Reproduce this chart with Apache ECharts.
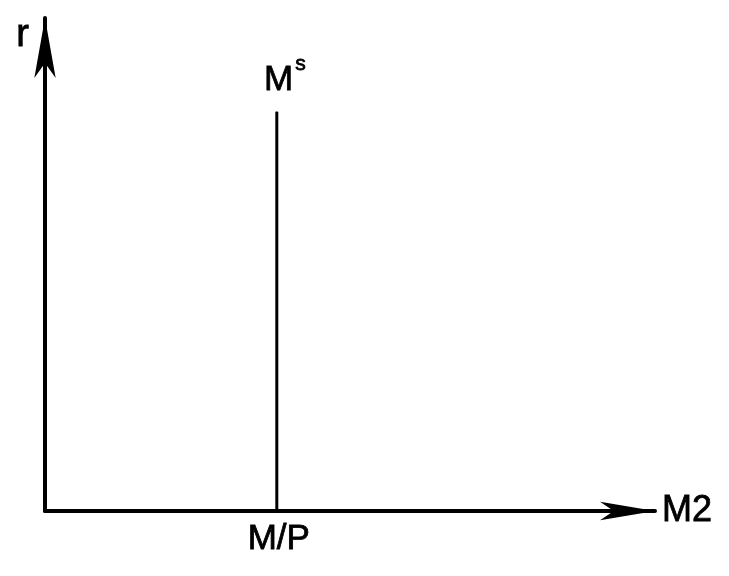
<!DOCTYPE html>
<html>
<head>
<meta charset="utf-8">
<script src="https://cdn.jsdelivr.net/npm/echarts@6/dist/echarts.min.js"></script>
<style>
  html, body { margin: 0; padding: 0; background: #fff; }
  #chart { width: 729px; height: 576px; }
</style>
</head>
<body>
<div id="chart"></div>
<script>
// money supply curve: vertical at M/P
const supplyX = [38, 38];
const supplyY = [0, 81];
const pointLabels = ['M/P', '{m|M}{s|s}'];
const labelPos = ['bottom', 'top'];

const chart = echarts.init(document.getElementById('chart'));
const font = 'Liberation Sans, Arial, sans-serif';
// thicken the text a little, the original is a heavy scan
const ink = { color: '#000', textBorderColor: '#000', textBorderWidth: 0.8 };

chart.setOption({
  animation: false,
  grid: { left: 45, right: 74, top: 18, bottom: 65 },
  xAxis: {
    type: 'value', min: 0, max: 100,
    name: 'M2', nameLocation: 'end', nameGap: 7,
    nameTextStyle: Object.assign({ fontFamily: font, fontSize: 36, verticalAlign: 'middle', align: 'left' }, ink),
    axisLine: { lineStyle: { color: '#000', width: 4 }, symbol: ['none', 'arrow'], symbolSize: [14, 55] },
    axisTick: { show: false }, axisLabel: { show: false }, splitLine: { show: false }
  },
  yAxis: {
    type: 'value', min: 0, max: 100,
    name: 'r', nameLocation: 'end', nameGap: -18,
    nameTextStyle: Object.assign({ fontFamily: font, fontSize: 38, verticalAlign: 'middle', align: 'right', padding: [0, 16, 0, 0] }, ink),
    axisLine: { lineStyle: { color: '#000', width: 4 }, symbol: ['none', 'arrow'], symbolSize: [16, 60] },
    axisTick: { show: false }, axisLabel: { show: false }, splitLine: { show: false }
  },
  series: [{
    type: 'line',
    symbol: 'circle',
    symbolSize: 1,
    itemStyle: { color: '#000' },
    lineStyle: { color: '#000', width: 3 },
    data: supplyX.map((x, i) => ({
      value: [x, supplyY[i]],
      label: Object.assign({
        show: true,
        position: labelPos[i],
        formatter: pointLabels[i],
        fontFamily: font, fontSize: 35,
        distance: i === 0 ? 10 : 4,
        offset: i === 0 ? [2, 0] : [8, 0],
        rich: {
          m: Object.assign({ fontFamily: font, fontSize: 35 }, ink),
          s: Object.assign({ fontFamily: font, fontSize: 21, padding: [0, 0, 32, 2] }, ink)
        }
      }, ink)
    }))
  }]
});
</script>
</body>
</html>
